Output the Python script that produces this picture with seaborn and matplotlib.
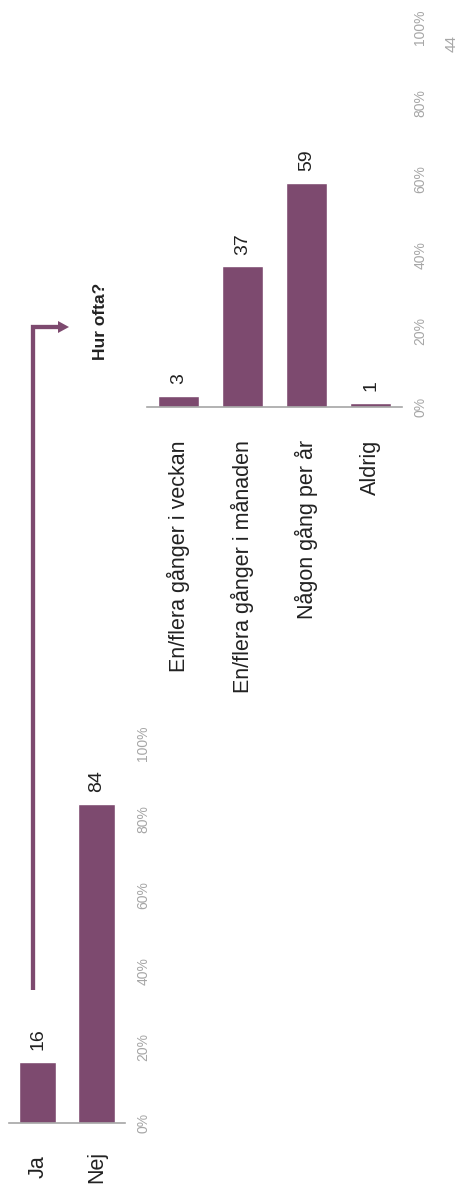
import matplotlib
matplotlib.use("Agg")
import matplotlib.pyplot as plt
import seaborn as sns
import pandas as pd

# Survey answers (percent)
used_labels = ["Ja", "Nej"]
used_values = [16, 84]

freq_labels = ["En/flera gånger i veckan", "En/flera gånger i månaden",
               "Någon gång per år", "Aldrig"]
freq_values = [3, 37, 59, 1]

tick_values = [0, 20, 40, 60, 80, 100]
tick_labels = ["0%", "20%", "40%", "60%", "80%", "100%"]

BAR = "#7d4a6f"
DARK = "#222222"
GREY = "#a6a6a6"

sns.set_theme(style="white")
plt.rcParams["font.family"] = ["Liberation Sans", "DejaVu Sans"]

W, H = 461, 1190
fig = plt.figure(figsize=(W / 100, H / 100), dpi=100)


def axes_px(x0, y0, x1, y1):
    return fig.add_axes([x0 / W, 1 - y1 / H, (x1 - x0) / W, (y1 - y0) / H])


def style_axes(ax, labels, n, xpad, xva):
    ax.set_xlim(-0.49, n - 1 + 0.49)
    ax.set_ylim(0, 100)
    for s in ("top", "left", "right"):
        ax.spines[s].set_visible(False)
    ax.spines["bottom"].set_color(GREY)
    ax.spines["bottom"].set_linewidth(1.2)
    ax.set_xlabel("")
    ax.set_ylabel("")
    ax.yaxis.tick_right()
    ax.set_yticks(tick_values)
    ax.set_yticklabels(tick_labels)
    ax.tick_params(axis="y", length=0, pad=13.3, labelsize=10,
                   labelcolor=GREY, labelrotation=90)
    for t in ax.get_yticklabels():
        t.set_ha("center")
        t.set_va("center")
    ax.set_xticks(range(n))
    ax.set_xticklabels(labels)
    ax.tick_params(axis="x", length=0, pad=xpad, labelsize=15.5,
                   labelcolor=DARK, labelrotation=90)
    for t in ax.get_xticklabels():
        t.set_ha("center")
        t.set_va(xva)
    ax.patch.set_alpha(0)


# Left chart: Ja / Nej
ax1 = axes_px(9, 743, 125, 1123)
df1 = pd.DataFrame({"svar": used_labels, "andel": used_values})
sns.barplot(data=df1, x="svar", y="andel", color=BAR, saturation=1,
            width=0.63, ax=ax1)
style_axes(ax1, used_labels, len(used_labels), 31.7, "center")
ax1.bar_label(ax1.containers[0], labels=[str(v) for v in used_values],
              padding=8.5, rotation=90, fontsize=14, color=DARK)

# Right chart: Hur ofta?
ax2 = axes_px(147, 27, 402, 407)
df2 = pd.DataFrame({"svar": freq_labels, "andel": freq_values})
sns.barplot(data=df2, x="svar", y="andel", color=BAR, saturation=1,
            width=0.64, ax=ax2)
style_axes(ax2, freq_labels, len(freq_labels), 23.8, "top")
ax2.bar_label(ax2.containers[0], labels=[str(v) for v in freq_values],
              padding=8.5, rotation=90, fontsize=14, color=DARK)

# Overlay in pixel space for the connecting arrow and page text
ov = fig.add_axes([0, 0, 1, 1])
ov.set_xlim(0, W)
ov.set_ylim(H, 0)
ov.axis("off")
ov.patch.set_alpha(0)
ov.plot([33, 33, 60], [990, 327, 327], color=BAR, lw=3.1,
        solid_joinstyle="miter", solid_capstyle="butt")
ov.fill([58, 58, 69], [321, 333, 327], color=BAR, lw=0)
ov.text(100, 321, "Hur ofta?", rotation=90, ha="center", va="center",
        fontsize=12.5, fontweight="bold", color=DARK)
ov.text(452, 43, "44", rotation=90, ha="center", va="center",
        fontsize=11, color=GREY)

fig.savefig("out.png", dpi=100)
